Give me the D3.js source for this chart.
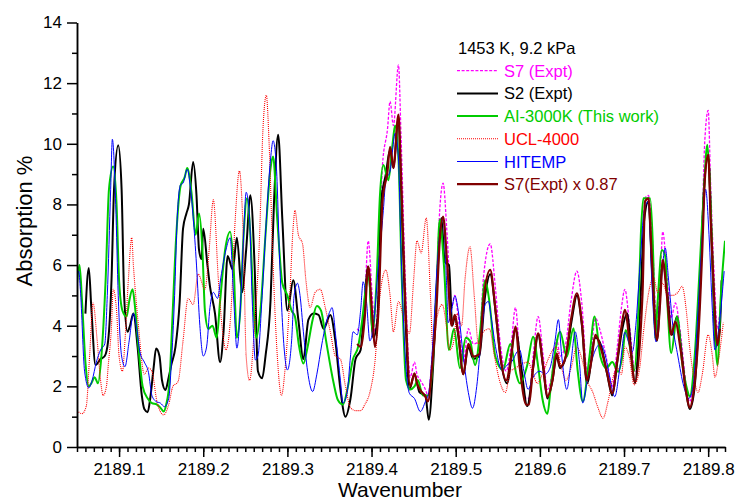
<!DOCTYPE html>
<html>
<head>
<meta charset="utf-8">
<script src="https://d3js.org/d3.v7.min.js"></script>
<style>
  body, html { margin: 0; padding: 0; background: #fff; }
  svg { display: block; font-family: Arial, "Liberation Sans", sans-serif; }
  .axis path, .axis line { stroke: #000; stroke-width: 1.5px; }
  .axis text { font-size: 17px; fill: #000; }
</style>
</head>
<body>
<svg width="737" height="502"></svg>
<script>
// S7 (Expt), magenta dashed
const s7 = [[2189.383,3.9],[2189.387,3.8],[2189.392,4.9],[2189.396,6.8],[2189.401,4.9],[2189.404,3.8],[2189.408,5.1],[2189.413,9.3],[2189.419,10.5],[2189.422,11.4],[2189.426,10.6],[2189.432,12.6],[2189.435,10.3],[2189.440,5.6],[2189.446,2.3],[2189.451,2.8],[2189.454,2.4],[2189.458,2.2],[2189.464,1.9],[2189.467,1.7],[2189.472,3.0],[2189.477,5.2],[2189.481,7.8],[2189.485,8.7],[2189.490,6.9],[2189.495,4.6],[2189.499,5.0],[2189.503,4.3],[2189.509,2.8],[2189.515,3.9],[2189.521,3.4],[2189.528,3.5],[2189.533,5.6],[2189.541,6.7],[2189.547,5.3],[2189.553,3.4],[2189.560,2.5],[2189.566,3.4],[2189.571,4.6],[2189.576,3.0],[2189.584,1.6],[2189.587,1.6],[2189.592,3.0],[2189.598,4.3],[2189.604,3.0],[2189.609,1.9],[2189.615,2.5],[2189.620,3.55],[2189.624,3.0],[2189.630,3.3],[2189.637,4.8],[2189.644,5.8],[2189.650,4.7],[2189.656,2.5],[2189.661,3.2],[2189.666,4.25],[2189.672,3.8],[2189.680,2.8],[2189.686,2.0],[2189.692,3.3],[2189.697,4.6],[2189.701,5.2],[2189.707,3.9],[2189.713,2.5],[2189.722,5.8],[2189.725,8.2],[2189.729,8.3],[2189.733,7.2],[2189.739,4.1],[2189.743,5.5],[2189.746,7.1],[2189.751,5.7],[2189.756,4.25],[2189.761,4.75],[2189.767,3.75],[2189.774,2.0],[2189.778,1.5],[2189.783,2.2],[2189.788,4.0],[2189.793,7.5],[2189.796,10.1],[2189.800,11.1],[2189.803,8.6],[2189.807,5.75],[2189.811,3.9],[2189.814,4.5]];

// S2 (Expt), black
const s2 = [[2189.060,4.4],[2189.064,5.9],[2189.067,4.6],[2189.072,2.7],[2189.078,2.9],[2189.083,3.0],[2189.087,3.5],[2189.091,5.5],[2189.094,8.5],[2189.099,9.95],[2189.103,8.5],[2189.106,5.0],[2189.110,3.8],[2189.113,4.0],[2189.117,4.4],[2189.122,3.3],[2189.127,1.7],[2189.130,1.25],[2189.134,1.15],[2189.137,1.6],[2189.141,2.6],[2189.144,3.25],[2189.148,3.0],[2189.151,2.2],[2189.155,1.88],[2189.159,2.3],[2189.162,2.7],[2189.167,3.3],[2189.172,4.8],[2189.176,7.2],[2189.180,7.7],[2189.183,8.0],[2189.188,9.4],[2189.192,8.3],[2189.195,6.5],[2189.198,6.2],[2189.200,7.2],[2189.205,6.0],[2189.208,5.3],[2189.214,4.4],[2189.220,2.8],[2189.224,3.75],[2189.229,6.3],[2189.235,5.85],[2189.240,6.9],[2189.246,5.1],[2189.251,6.5],[2189.256,8.3],[2189.261,6.0],[2189.265,2.5],[2189.270,2.27],[2189.274,3.0],[2189.280,4.85],[2189.284,8.0],[2189.289,10.3],[2189.294,7.5],[2189.300,4.5],[2189.307,5.5],[2189.313,4.2],[2189.319,2.9],[2189.325,4.2],[2189.331,4.4],[2189.337,4.36],[2189.343,3.9],[2189.351,4.35],[2189.357,3.5],[2189.363,1.9],[2189.369,1.0],[2189.375,1.6],[2189.381,2.9],[2189.387,3.2],[2189.391,4.5],[2189.396,5.95],[2189.402,3.6],[2189.407,4.2],[2189.411,8.0],[2189.417,9.0],[2189.422,9.8],[2189.426,9.2],[2189.432,10.9],[2189.435,8.5],[2189.440,4.5],[2189.445,1.9],[2189.451,2.4],[2189.457,1.8],[2189.464,1.7],[2189.468,0.9],[2189.473,2.6],[2189.478,5.5],[2189.483,7.55],[2189.487,6.1],[2189.492,6.0],[2189.496,4.0],[2189.499,4.3],[2189.503,3.7],[2189.509,2.4],[2189.515,3.3],[2189.521,2.9],[2189.528,3.0],[2189.535,5.0],[2189.541,5.7],[2189.548,4.3],[2189.554,2.8],[2189.561,2.1],[2189.571,3.9],[2189.578,2.6],[2189.585,1.35],[2189.592,2.6],[2189.598,3.7],[2189.604,2.6],[2189.609,1.6],[2189.615,2.2],[2189.620,3.0],[2189.624,2.6],[2189.631,3.0],[2189.638,4.2],[2189.644,5.0],[2189.650,4.0],[2189.656,2.1],[2189.666,3.6],[2189.672,3.4],[2189.680,2.4],[2189.686,1.7],[2189.692,2.8],[2189.698,3.9],[2189.704,4.4],[2189.708,3.3],[2189.713,2.1],[2189.719,4.5],[2189.724,7.5],[2189.729,8.1],[2189.733,6.0],[2189.739,3.5],[2189.746,6.1],[2189.751,5.2],[2189.757,3.7],[2189.763,4.3],[2189.768,3.2],[2189.774,1.8],[2189.778,1.25],[2189.784,2.0],[2189.790,5.0],[2189.795,8.5],[2189.800,9.6],[2189.805,6.0],[2189.809,3.3],[2189.814,4.0],[2189.816,5.5]];

// AI-3000K (This work), green
const ai3000 = [[2189.050,5.4],[2189.053,6.0],[2189.056,4.8],[2189.060,2.8],[2189.064,2.0],[2189.067,2.1],[2189.071,2.3],[2189.075,2.1],[2189.079,3.0],[2189.084,5.5],[2189.088,8.5],[2189.093,9.25],[2189.097,8.0],[2189.100,5.5],[2189.104,4.5],[2189.109,4.3],[2189.112,4.8],[2189.116,5.2],[2189.119,4.6],[2189.123,3.3],[2189.128,2.0],[2189.134,1.6],[2189.139,1.45],[2189.145,1.4],[2189.149,1.3],[2189.153,1.17],[2189.156,1.4],[2189.160,2.2],[2189.163,4.0],[2189.168,7.0],[2189.173,8.6],[2189.178,8.9],[2189.181,9.2],[2189.186,8.4],[2189.191,7.0],[2189.195,7.7],[2189.199,6.5],[2189.202,4.5],[2189.206,3.9],[2189.211,4.0],[2189.216,3.6],[2189.220,4.8],[2189.226,6.5],[2189.232,7.1],[2189.236,6.0],[2189.240,3.6],[2189.244,4.5],[2189.248,7.0],[2189.252,8.2],[2189.256,7.0],[2189.260,4.5],[2189.263,3.6],[2189.268,4.5],[2189.274,7.0],[2189.280,9.2],[2189.283,9.58],[2189.288,7.5],[2189.294,5.4],[2189.300,5.0],[2189.305,4.5],[2189.309,4.3],[2189.314,3.3],[2189.319,2.75],[2189.324,3.3],[2189.330,4.2],[2189.335,4.65],[2189.340,4.5],[2189.346,3.5],[2189.355,2.1],[2189.360,1.55],[2189.366,1.4],[2189.372,2.0],[2189.378,2.9],[2189.384,3.3],[2189.389,4.2],[2189.394,5.4],[2189.397,5.6],[2189.401,3.8],[2189.406,5.5],[2189.410,8.3],[2189.414,9.3],[2189.420,8.8],[2189.425,10.0],[2189.428,10.6],[2189.432,9.5],[2189.436,5.5],[2189.441,2.2],[2189.446,1.9],[2189.451,2.0],[2189.455,2.2],[2189.461,1.7],[2189.467,1.7],[2189.472,2.5],[2189.477,5.0],[2189.481,7.5],[2189.486,6.0],[2189.492,3.2],[2189.498,3.9],[2189.505,2.6],[2189.512,3.6],[2189.517,3.5],[2189.523,2.7],[2189.529,3.8],[2189.535,5.5],[2189.540,4.8],[2189.547,3.0],[2189.556,2.54],[2189.565,3.4],[2189.572,2.4],[2189.576,2.1],[2189.585,2.7],[2189.592,3.64],[2189.598,2.65],[2189.603,1.6],[2189.609,1.1],[2189.613,2.0],[2189.618,3.1],[2189.624,3.8],[2189.632,2.98],[2189.640,3.92],[2189.645,2.5],[2189.651,1.5],[2189.659,3.0],[2189.665,4.3],[2189.672,2.98],[2189.679,2.6],[2189.686,2.8],[2189.693,2.48],[2189.698,3.0],[2189.702,3.86],[2189.707,3.3],[2189.712,2.5],[2189.717,4.5],[2189.720,7.0],[2189.723,8.2],[2189.731,8.2],[2189.735,6.0],[2189.737,3.59],[2189.740,4.8],[2189.745,6.5],[2189.749,6.3],[2189.752,4.5],[2189.756,3.1],[2189.763,4.3],[2189.769,2.8],[2189.775,1.9],[2189.778,1.66],[2189.784,3.0],[2189.790,5.95],[2189.795,8.5],[2189.799,9.97],[2189.802,8.7],[2189.806,5.5],[2189.811,2.7],[2189.815,4.95],[2189.820,6.8]];

// UCL-4000, red dotted
const ucl4000 = [[2189.050,1.2],[2189.056,1.1],[2189.061,1.35],[2189.065,3.0],[2189.069,4.75],[2189.074,3.5],[2189.078,2.2],[2189.081,1.7],[2189.085,2.0],[2189.087,2.65],[2189.091,4.0],[2189.093,5.2],[2189.097,4.5],[2189.100,3.0],[2189.104,2.5],[2189.107,3.5],[2189.111,5.5],[2189.115,6.9],[2189.117,6.0],[2189.121,4.6],[2189.123,4.0],[2189.130,2.4],[2189.135,2.6],[2189.139,2.5],[2189.145,1.5],[2189.153,1.06],[2189.159,1.4],[2189.164,2.0],[2189.170,2.15],[2189.176,3.5],[2189.182,4.9],[2189.188,4.7],[2189.194,5.7],[2189.202,5.2],[2189.207,6.5],[2189.212,8.15],[2189.218,5.5],[2189.223,3.8],[2189.227,3.2],[2189.233,4.5],[2189.238,7.5],[2189.243,9.1],[2189.248,6.5],[2189.251,3.0],[2189.255,2.2],[2189.261,4.0],[2189.267,7.0],[2189.271,10.5],[2189.275,11.6],[2189.278,10.2],[2189.283,6.0],[2189.288,3.0],[2189.293,1.7],[2189.297,2.5],[2189.302,4.5],[2189.307,7.3],[2189.309,7.8],[2189.313,7.0],[2189.318,6.7],[2189.322,5.5],[2189.327,4.6],[2189.333,5.1],[2189.339,5.2],[2189.345,4.6],[2189.351,3.8],[2189.357,3.0],[2189.363,2.9],[2189.369,2.0],[2189.375,1.3],[2189.381,1.2],[2189.387,1.2],[2189.392,1.4],[2189.398,1.8],[2189.404,2.8],[2189.410,5.0],[2189.417,5.84],[2189.422,5.0],[2189.426,3.8],[2189.432,4.8],[2189.438,4.3],[2189.445,3.75],[2189.450,5.5],[2189.454,6.8],[2189.459,6.4],[2189.465,7.55],[2189.470,5.0],[2189.473,3.2],[2189.478,4.3],[2189.484,4.7],[2189.489,4.0],[2189.493,3.2],[2189.497,3.4],[2189.502,4.4],[2189.507,4.0],[2189.511,5.5],[2189.517,6.6],[2189.522,5.0],[2189.527,3.4],[2189.533,3.8],[2189.540,3.9],[2189.546,3.0],[2189.552,2.2],[2189.559,1.8],[2189.565,2.5],[2189.571,2.6],[2189.576,2.7],[2189.586,2.8],[2189.592,2.4],[2189.597,2.1],[2189.603,2.4],[2189.610,2.9],[2189.619,3.3],[2189.625,2.7],[2189.631,2.2],[2189.637,2.6],[2189.644,3.3],[2189.650,2.9],[2189.656,2.2],[2189.663,1.8],[2189.669,1.3],[2189.675,0.95],[2189.681,1.5],[2189.687,2.3],[2189.692,2.6],[2189.697,2.4],[2189.701,3.3],[2189.706,3.0],[2189.712,2.05],[2189.718,2.5],[2189.724,4.0],[2189.730,5.2],[2189.735,5.6],[2189.740,5.1],[2189.746,5.4],[2189.752,5.0],[2189.758,5.0],[2189.764,5.1],[2189.769,5.3],[2189.774,4.5],[2189.778,3.3],[2189.783,2.3],[2189.788,1.8],[2189.793,2.4],[2189.800,3.7],[2189.805,3.0],[2189.808,2.3],[2189.813,3.0],[2189.818,4.1]];

// HITEMP, blue
const hitemp = [[2189.050,5.6],[2189.052,5.8],[2189.054,5.2],[2189.059,2.5],[2189.064,1.95],[2189.068,2.2],[2189.073,2.8],[2189.078,3.2],[2189.083,3.4],[2189.086,5.0],[2189.090,8.5],[2189.092,10.15],[2189.096,8.0],[2189.099,5.0],[2189.103,3.0],[2189.107,2.65],[2189.112,3.5],[2189.117,4.4],[2189.121,3.9],[2189.125,3.1],[2189.130,2.8],[2189.135,2.45],[2189.139,1.7],[2189.144,1.5],[2189.149,1.45],[2189.154,1.33],[2189.159,1.6],[2189.162,2.7],[2189.166,5.0],[2189.169,7.5],[2189.173,8.65],[2189.176,8.7],[2189.181,9.16],[2189.185,8.5],[2189.188,7.6],[2189.192,6.0],[2189.196,4.0],[2189.200,3.0],[2189.204,3.3],[2189.208,4.6],[2189.212,5.1],[2189.217,4.9],[2189.221,5.6],[2189.227,6.5],[2189.232,6.9],[2189.236,5.0],[2189.240,3.26],[2189.244,4.5],[2189.248,7.0],[2189.251,8.4],[2189.255,7.6],[2189.258,5.0],[2189.262,2.87],[2189.265,3.0],[2189.270,5.0],[2189.275,7.5],[2189.280,9.5],[2189.283,10.1],[2189.287,9.2],[2189.291,6.0],[2189.296,3.3],[2189.300,2.54],[2189.305,3.5],[2189.308,5.0],[2189.312,5.4],[2189.315,5.0],[2189.319,3.8],[2189.324,2.5],[2189.330,1.83],[2189.335,2.4],[2189.341,3.4],[2189.347,4.2],[2189.351,4.5],[2189.353,4.6],[2189.358,3.5],[2189.363,2.2],[2189.366,1.45],[2189.371,1.8],[2189.375,3.0],[2189.378,3.8],[2189.383,3.7],[2189.387,4.5],[2189.390,5.45],[2189.394,4.8],[2189.398,3.5],[2189.403,4.2],[2189.407,5.6],[2189.410,6.5],[2189.414,7.8],[2189.417,8.8],[2189.422,9.1],[2189.425,9.8],[2189.428,10.35],[2189.432,9.5],[2189.435,6.5],[2189.440,3.0],[2189.445,1.77],[2189.451,1.6],[2189.458,1.17],[2189.464,1.5],[2189.468,1.8],[2189.473,3.5],[2189.478,6.0],[2189.483,7.4],[2189.485,7.5],[2189.489,5.5],[2189.491,4.1],[2189.495,4.5],[2189.499,4.98],[2189.503,4.5],[2189.509,3.0],[2189.515,1.8],[2189.520,1.28],[2189.525,2.0],[2189.530,3.5],[2189.535,4.7],[2189.539,4.8],[2189.542,4.3],[2189.548,3.2],[2189.555,2.54],[2189.561,2.7],[2189.568,2.87],[2189.572,3.1],[2189.576,3.2],[2189.581,2.5],[2189.586,1.9],[2189.592,2.3],[2189.600,2.5],[2189.606,2.4],[2189.612,2.6],[2189.618,3.5],[2189.622,4.2],[2189.626,3.0],[2189.632,1.9],[2189.637,2.8],[2189.642,3.8],[2189.647,2.8],[2189.651,1.45],[2189.657,2.3],[2189.666,3.2],[2189.672,3.4],[2189.677,3.1],[2189.683,2.3],[2189.689,1.66],[2189.695,2.6],[2189.701,3.78],[2189.705,3.5],[2189.710,3.15],[2189.714,4.0],[2189.719,6.0],[2189.724,7.8],[2189.729,8.1],[2189.733,5.5],[2189.738,3.47],[2189.743,5.0],[2189.749,6.56],[2189.753,5.5],[2189.758,4.0],[2189.764,3.0],[2189.771,2.0],[2189.777,1.6],[2189.782,2.0],[2189.788,4.5],[2189.793,7.0],[2189.797,8.5],[2189.801,7.0],[2189.805,4.5],[2189.808,3.2],[2189.813,4.0],[2189.819,5.8]];

// S7(Expt) x 0.87, dark red
const s7scaled = [[2189.383,3.4],[2189.387,3.3],[2189.392,4.3],[2189.396,5.95],[2189.401,4.3],[2189.404,3.3],[2189.408,4.4],[2189.413,8.1],[2189.419,9.1],[2189.422,9.9],[2189.426,9.2],[2189.432,10.96],[2189.435,9.0],[2189.440,4.85],[2189.446,2.0],[2189.451,2.43],[2189.454,2.1],[2189.458,1.88],[2189.464,1.66],[2189.467,1.5],[2189.472,2.65],[2189.477,4.5],[2189.481,6.8],[2189.485,7.6],[2189.490,6.0],[2189.495,4.0],[2189.499,4.36],[2189.503,3.75],[2189.509,2.4],[2189.515,3.4],[2189.521,2.98],[2189.528,3.06],[2189.533,4.85],[2189.541,5.84],[2189.547,4.6],[2189.553,3.0],[2189.560,2.2],[2189.566,3.0],[2189.571,3.97],[2189.576,2.65],[2189.584,1.39],[2189.587,1.4],[2189.592,2.65],[2189.598,3.75],[2189.604,2.65],[2189.609,1.66],[2189.615,2.2],[2189.620,3.09],[2189.624,2.65],[2189.630,2.9],[2189.637,4.2],[2189.644,5.07],[2189.650,4.08],[2189.656,2.2],[2189.661,2.8],[2189.666,3.7],[2189.672,3.3],[2189.680,2.43],[2189.686,1.77],[2189.692,2.87],[2189.697,3.97],[2189.701,4.52],[2189.707,3.37],[2189.713,2.15],[2189.722,5.07],[2189.725,8.1],[2189.729,8.2],[2189.733,6.3],[2189.739,3.53],[2189.743,4.8],[2189.746,6.17],[2189.751,5.0],[2189.756,3.7],[2189.761,4.13],[2189.767,3.26],[2189.774,1.77],[2189.778,1.3],[2189.783,1.9],[2189.788,3.5],[2189.793,6.5],[2189.796,8.8],[2189.800,9.64],[2189.803,7.5],[2189.807,5.0],[2189.811,3.37],[2189.814,3.9]];

const yTicks = [0, 2, 4, 6, 8, 10, 12, 14];
const xTicks = [2189.1, 2189.2, 2189.3, 2189.4, 2189.5, 2189.6, 2189.7, 2189.8];
const legendTitle = "1453 K, 9.2 kPa";

const series = [
  {name: "S7 (Expt)", data: s7, color: "#ff00ff", width: 1.3, dash: "3,1.6"},
  {name: "S2 (Expt)", data: s2, color: "#000000", width: 2, dash: null},
  {name: "AI-3000K (This work)", data: ai3000, color: "#00cc00", width: 2, dash: null},
  {name: "UCL-4000", data: ucl4000, color: "#ff0000", width: 1.1, dash: "1,1"},
  {name: "HITEMP", data: hitemp, color: "#0000ff", width: 1, dash: null},
  {name: "S7(Expt) x 0.87", data: s7scaled, color: "#800000", width: 2.2, dash: null}
];

const svg = d3.select("svg");
const x = d3.scaleLinear().domain([2189.05, 2189.82]).range([77, 725]);
const y = d3.scaleLinear().domain([0, 14]).range([447, 22.5]);

svg.append("clipPath").attr("id", "plot")
  .append("rect").attr("x", 77).attr("y", 0).attr("width", 648).attr("height", 447);

const line = d3.line()
  .x(d => x(d[0]))
  .y(d => y(d[1]))
  .curve(d3.curveMonotoneX);

const lines = svg.append("g").attr("clip-path", "url(#plot)");
series.forEach(s => {
  lines.append("path")
    .datum(s.data)
    .attr("fill", "none")
    .attr("stroke", s.color)
    .attr("stroke-width", s.width)
    .attr("stroke-dasharray", s.dash)
    .attr("stroke-linejoin", "round")
    .attr("d", line);
});

// minor ticks
svg.append("g").attr("class", "axis")
  .attr("transform", "translate(77,0)")
  .call(d3.axisLeft(y).tickValues([1, 3, 5, 7, 9, 11, 13]).tickSize(5).tickSizeOuter(0).tickFormat(""));
svg.append("g").attr("class", "axis")
  .attr("transform", "translate(0,447)")
  .call(d3.axisBottom(x).tickValues(d3.range(5, 83).map(i => 2189 + i / 100)).tickSize(5).tickSizeOuter(0).tickFormat(""));

// major ticks
svg.append("g").attr("class", "axis")
  .attr("transform", "translate(77,0)")
  .call(d3.axisLeft(y).tickValues(yTicks).tickSize(10).tickSizeOuter(0).tickPadding(5));
svg.append("g").attr("class", "axis")
  .attr("transform", "translate(0,447)")
  .call(d3.axisBottom(x).tickValues(xTicks).tickSize(10).tickSizeOuter(0).tickPadding(6).tickFormat(d3.format(".1f")));

svg.append("text")
  .attr("transform", "translate(32,221) rotate(-90)")
  .attr("text-anchor", "middle")
  .attr("font-size", 22)
  .text("Absorption %");

svg.append("text")
  .attr("x", 400).attr("y", 497)
  .attr("text-anchor", "middle")
  .attr("font-size", 21)
  .text("Wavenumber");

// legend
const legend = svg.append("g").attr("font-size", 16.5);
legend.append("text").attr("x", 458).attr("y", 54).text(legendTitle);
series.forEach((s, i) => {
  const ly = 70.7 + i * 22.7;
  legend.append("line")
    .attr("x1", 457).attr("x2", 498).attr("y1", ly).attr("y2", ly)
    .attr("stroke", s.color)
    .attr("stroke-width", s.width)
    .attr("stroke-dasharray", s.dash);
  legend.append("text")
    .attr("x", 504).attr("y", ly + 6)
    .attr("fill", s.color)
    .text(s.name);
});
</script>
</body>
</html>
